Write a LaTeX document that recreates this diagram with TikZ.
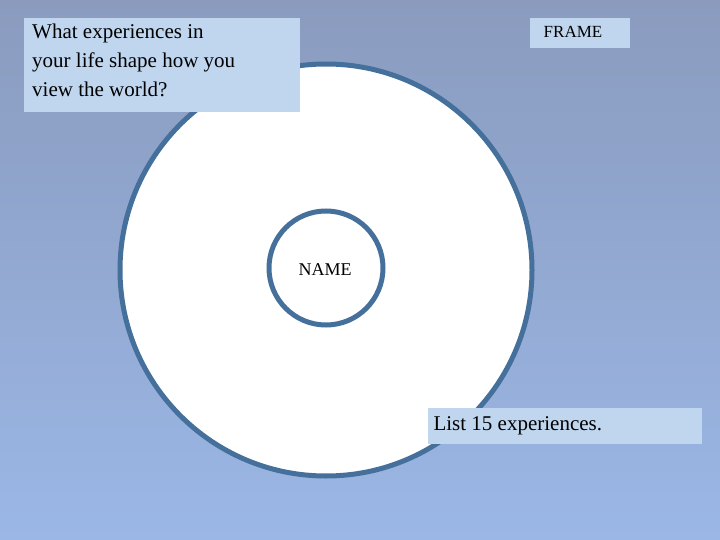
\documentclass[tikz,border=0pt]{standalone}
\usepackage{fontspec}
\setmainfont{Liberation Serif}
\definecolor{bgtop}{HTML}{8A9BBE}
\definecolor{bgbot}{HTML}{9BB7E6}
\definecolor{ring}{HTML}{46709C}
\definecolor{boxfill}{HTML}{BFD6EE}
\begin{document}
\begin{tikzpicture}[x=1pt,y=-1pt,
  label box/.style={fill=boxfill,inner sep=0pt,anchor=north west,align=left}]
\useasboundingbox (0,0) rectangle (720,540);
\shade[top color=bgtop,bottom color=bgbot] (0,0) rectangle (720,540);
\node[draw=ring,line width=5pt,fill=white,circle,minimum size=412pt,inner sep=0pt] (outer) at (326,270) {};
\node[draw=ring,line width=5pt,fill=white,circle,minimum size=114pt,inner sep=0pt] (inner) at (326,268) {};
\node[font=\fontsize{18}{20}\selectfont,anchor=west] (name) at (295,270) {NAME};
\fill[boxfill] (24,18) rectangle (300,112);
\node[font=\fontsize{21}{29}\selectfont,anchor=north west,align=left,inner sep=0pt] (q) at (32,24) {What experiences in\\your life shape how you\\view the world?};
\fill[boxfill] (530,18) rectangle (630,48);
\node[font=\fontsize{17}{20}\selectfont,anchor=center] (frame) at (573,32) {FRAME};
\fill[boxfill] (428,408) rectangle (702,444);
\node[font=\fontsize{21}{24}\selectfont,anchor=west] (list) at (430,426) {List 15 experiences.};
\end{tikzpicture}
\end{document}
